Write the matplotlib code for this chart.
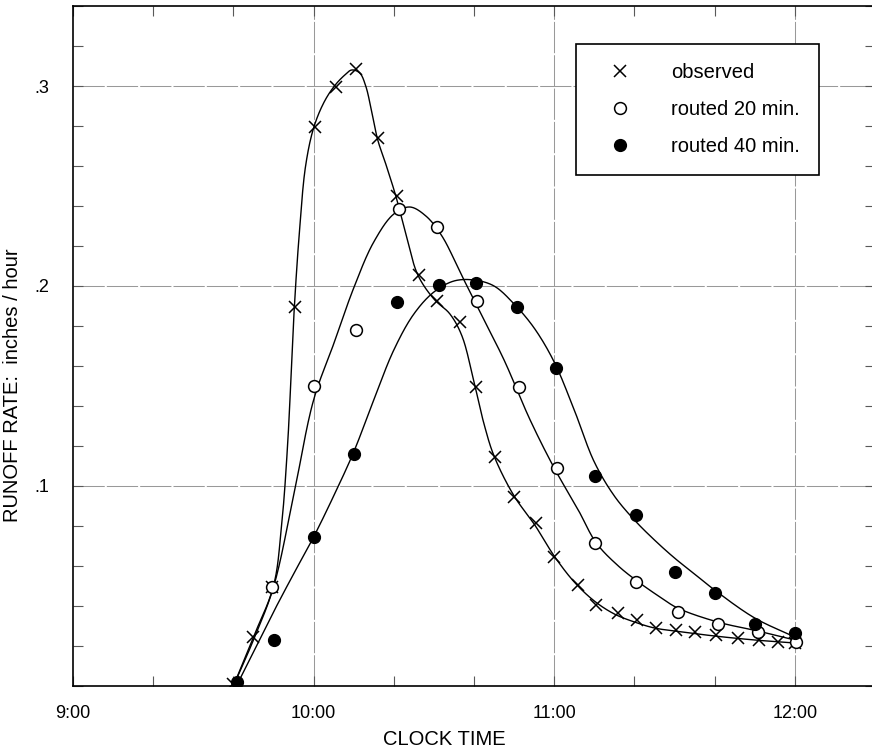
import numpy as np
import matplotlib
matplotlib.use('Agg')
import matplotlib.pyplot as plt
from matplotlib.lines import Line2D
from matplotlib.ticker import MultipleLocator, FixedLocator

# minutes after 9:00
obs_t = [40, 45, 49.75, 55.25, 60.25, 65.5, 70.5, 76, 80.75, 86.25, 90.75, 96.5,
         100.5, 105.25, 110, 115.5, 120, 126, 130.5, 136, 140.75, 145.5, 150.25,
         155, 160.25, 165.75, 171, 175.75, 180]
obs_q = [0.001, 0.0245, 0.0495, 0.1895, 0.2795, 0.2995, 0.3085, 0.274, 0.245, 0.2055,
         0.1925, 0.182, 0.1495, 0.1145, 0.0945, 0.0815, 0.0645, 0.0505, 0.0405, 0.0365,
         0.033, 0.029, 0.028, 0.027, 0.0255, 0.024, 0.023, 0.022, 0.0215]

r20_t = [49.75, 60, 70.5, 81.25, 90.75, 100.75, 111.25, 120.75, 130.25, 140.5,
         150.75, 160.75, 170.75, 180.25]
r20_q = [0.0495, 0.150, 0.178, 0.2385, 0.2295, 0.1925, 0.1495, 0.109, 0.0715, 0.052,
         0.037, 0.031, 0.027, 0.022]

r40_t = [41, 50, 60, 70, 80.75, 91.25, 100.5, 110.75, 120.5, 130.25, 140.5, 150, 160, 170, 180]
r40_q = [0.002, 0.023, 0.0745, 0.116, 0.192, 0.2005, 0.2015, 0.1895, 0.159, 0.105,
         0.0855, 0.057, 0.0465, 0.031, 0.0265]

# hand-drawn fitted curves
obs_fit_t = [40, 45, 50, 52, 53.5, 55.2, 56.5, 58, 60, 62.5, 65, 67.5, 69.5, 71.5, 73,
             74.5, 76, 78, 80.5, 83, 86, 90, 94, 97, 100, 102.5, 105, 110, 115, 120, 125,
             130, 135, 140, 145, 150, 160, 170, 180]
obs_fit_q = [0.0, 0.0245, 0.05, 0.08, 0.12, 0.1895, 0.228, 0.26, 0.279, 0.2915, 0.2995,
             0.305, 0.308, 0.3065, 0.3, 0.287, 0.273, 0.261, 0.245, 0.226, 0.2055, 0.1935,
             0.186, 0.175, 0.152, 0.131, 0.115, 0.095, 0.081, 0.065, 0.052, 0.0425, 0.036,
             0.032, 0.029, 0.0275, 0.025, 0.023, 0.0215]

r20_fit_t = [40, 45, 50, 55, 60, 65, 70, 75, 80, 84, 88, 92, 97, 102.5, 107.5, 114, 120,
             126, 130.5, 136, 141, 146.75, 150.75, 160.75, 170.75, 180]
r20_fit_q = [0.0, 0.023, 0.0495, 0.095, 0.143, 0.171, 0.199, 0.222, 0.236, 0.2395, 0.235,
             0.225, 0.205, 0.183, 0.163, 0.133, 0.109, 0.088, 0.0715, 0.06, 0.052, 0.044,
             0.039, 0.032, 0.0275, 0.023]

r40_fit_t = [41, 45, 50, 55, 60, 65, 70, 75, 80, 85, 90, 95, 100, 105, 110, 115, 120,
             125, 130, 135, 140, 145, 150, 155, 160, 170, 180]
r40_fit_q = [0.001, 0.017, 0.037, 0.056, 0.0745, 0.095, 0.117, 0.143, 0.168, 0.186, 0.197,
             0.2025, 0.203, 0.2, 0.191, 0.179, 0.162, 0.138, 0.112, 0.095, 0.083, 0.073,
             0.064, 0.056, 0.048, 0.034, 0.0245]

hour_ticks = [0, 60, 120, 180]
hour_labels = ['9:00', '10:00', '11:00', '12:00']
rate_ticks = [0.1, 0.2, 0.3]
rate_labels = ['.1', '.2', '.3']


def smooth(xs, ys, n=25):
    # centripetal catmull-rom, only to draw the curve through its knots
    P = np.column_stack([np.asarray(xs, float), np.asarray(ys, float) * 500])
    P = np.vstack([2 * P[0] - P[1], P, 2 * P[-1] - P[-2]])
    out = []
    for i in range(1, len(P) - 2):
        p0, p1, p2, p3 = P[i - 1], P[i], P[i + 1], P[i + 2]
        t0 = 0.0
        t1 = t0 + np.linalg.norm(p1 - p0) ** 0.5
        t2 = t1 + np.linalg.norm(p2 - p1) ** 0.5
        t3 = t2 + np.linalg.norm(p3 - p2) ** 0.5
        t = np.linspace(t1, t2, n)[:, None]
        a1 = (t1 - t) / (t1 - t0) * p0 + (t - t0) / (t1 - t0) * p1
        a2 = (t2 - t) / (t2 - t1) * p1 + (t - t1) / (t2 - t1) * p2
        a3 = (t3 - t) / (t3 - t2) * p2 + (t - t2) / (t3 - t2) * p3
        b1 = (t2 - t) / (t2 - t0) * a1 + (t - t0) / (t2 - t0) * a2
        b2 = (t3 - t) / (t3 - t1) * a2 + (t - t1) / (t3 - t1) * a3
        c = (t2 - t) / (t2 - t1) * b1 + (t - t1) / (t2 - t1) * b2
        out.append(c)
    out = np.vstack(out)
    return out[:, 0], out[:, 1] / 500


plt.rcParams['font.family'] = ['Liberation Sans', 'DejaVu Sans']

fig = plt.figure(figsize=(8.72, 7.52), dpi=100)
ax = fig.add_axes([73 / 872, 66 / 752, 802 / 872, 680 / 752])
ax.set_xlim(0, 200)
ax.set_ylim(0, 0.34)

# grid
grid_style = dict(color='0.6', lw=0.75, ls=(0, (30, 2)), zorder=1)
for h in hour_ticks[1:]:
    ax.axvline(h, **grid_style)
for r in rate_ticks:
    ax.axhline(r, **grid_style)

# curves
for ft, fq in [(obs_fit_t, obs_fit_q), (r20_fit_t, r20_fit_q), (r40_fit_t, r40_fit_q)]:
    sx, sy = smooth(ft, fq)
    ax.plot(sx, sy, color='black', lw=1.0, zorder=2)

ax.plot(obs_t, obs_q, ls='none', marker='x', ms=9, mew=1.1, color='black', zorder=3)
ax.plot(r20_t, r20_q, ls='none', marker='o', ms=8.5, mew=1.1, mfc='white', mec='black', zorder=4)
ax.plot(r40_t, r40_q, ls='none', marker='o', ms=8.5, mew=1.0, mfc='black', mec='black', zorder=4)

ax.xaxis.set_major_locator(FixedLocator(hour_ticks))
ax.set_xticklabels(hour_labels)
ax.xaxis.set_minor_locator(MultipleLocator(20))
ax.yaxis.set_major_locator(FixedLocator(rate_ticks))
ax.set_yticklabels(rate_labels)
ax.yaxis.set_minor_locator(MultipleLocator(0.02))
ax.tick_params(which='both', direction='in', top=True, right=True, length=7, width=0.8,
               color='0.35', labelsize=13)
ax.tick_params(axis='x', which='major', pad=14)
ax.tick_params(axis='y', which='major', pad=17)

for s in ax.spines.values():
    s.set_linewidth(1.2)

ax.set_xlabel('CLOCK TIME', fontsize=14.5)
ax.xaxis.set_label_coords((444 - 73) / 802, -0.064)
ax.set_ylabel('RUNOFF RATE:  inches / hour', fontsize=14.5)
ax.yaxis.set_label_coords(-0.063, 0.443)

handles = [
    Line2D([], [], ls='none', marker='x', ms=9, mew=1.1, color='black'),
    Line2D([], [], ls='none', marker='o', ms=8.5, mew=1.1, mfc='white', mec='black'),
    Line2D([], [], ls='none', marker='o', ms=8.5, mfc='black', mec='black'),
]
leg = ax.legend(handles, ['observed', 'routed 20 min.', 'routed 40 min.'],
                loc='upper left', bbox_to_anchor=(503 / 802, 642 / 680),
                fontsize=14.5, frameon=True, fancybox=False, framealpha=1,
                edgecolor='black', borderpad=0.95, labelspacing=0.88,
                handlelength=2.5, handletextpad=1.25, borderaxespad=0)
leg.get_frame().set_linewidth(1.2)
leg.set_zorder(5)

fig.savefig('out.png', dpi=100)
